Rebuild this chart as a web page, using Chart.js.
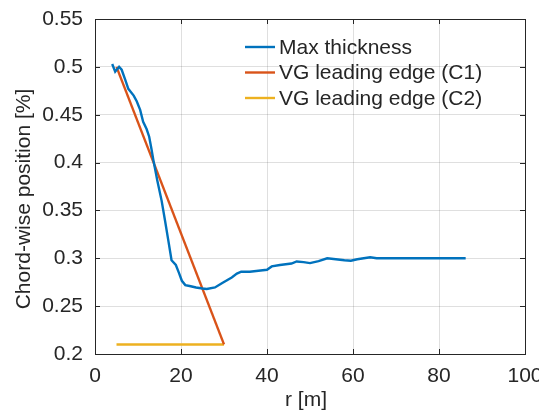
<!DOCTYPE html>
<html lang="en">
<head>
<meta charset="UTF-8">
<title>Chord-wise position of max thickness</title>
<script src="https://cdn.jsdelivr.net/npm/chart.js"></script>
<style>
  body { margin: 0; background: #fff; }
  canvas { display: block; }
</style>
</head>
<body>
<canvas id="chart" width="539" height="412"></canvas>
<script>
// Max thickness position along the blade
const radius = [4.0, 4.7, 5.6, 6.2, 7.0, 7.75, 9.0, 9.7, 10.5, 11.2, 12.0, 12.6, 13.1, 13.6, 14.5, 15.5, 16.3, 17.0, 17.8, 18.8,
                19.5, 20.2, 21.0, 22.0, 23.5, 25.0, 26.0, 27.9, 29.5, 31.8, 33.0, 34.0, 36.0, 38.0, 40.0, 41.1, 43.0, 45.7,
                46.9, 48.5, 50.0, 52.0, 54.0, 56.0, 58.0, 59.5, 61.0, 62.5, 64.0, 65.5, 67.0, 70.0, 75.0, 80.0, 86.2];
const maxThickness = [0.503, 0.495, 0.500, 0.497, 0.487, 0.477, 0.470, 0.464, 0.455, 0.4425, 0.435, 0.427, 0.415, 0.402, 0.381, 0.360,
                      0.339, 0.320, 0.298, 0.293, 0.285, 0.2765, 0.272, 0.271, 0.2695, 0.2685, 0.268, 0.2695, 0.274, 0.280, 0.284,
                      0.286, 0.286, 0.287, 0.288, 0.2915, 0.293, 0.2945, 0.2967, 0.296, 0.295, 0.297, 0.300, 0.299, 0.298, 0.2975,
                      0.299, 0.300, 0.301, 0.300, 0.300, 0.300, 0.300, 0.300, 0.300];

// vortex generator leading edge, two configurations
const c1Radius = [5, 30];
const c1Position = [0.5, 0.21];
const c2Radius = [5, 30];
const c2Position = [0.21, 0.21];

const seriesNames = ['Max thickness', 'VG leading edge (C1)', 'VG leading edge (C2)'];
const seriesColors = ['#0072BD', '#D95319', '#EDB120'];

const xTicks = [0, 20, 40, 60, 80, 100];
const xTickLabels = ['0', '20', '40', '60', '80', '100'];
const yTicks = [0.2, 0.25, 0.3, 0.35, 0.4, 0.45, 0.5, 0.55];
const yTickLabels = ['0.2', '0.25', '0.3', '0.35', '0.4', '0.45', '0.5', '0.55'];

const xTitle = 'r [m]';
const yTitle = 'Chord-wise position [%]';

const ink = '#262626';
const FONT = "'Liberation Sans', Arial, sans-serif";
const FONT_SIZE = 21;
const LINE_W = 2.4;

function pts(xs, ys) {
    return xs.map((x, i) => ({ x: x, y: ys[i] }));
}

Chart.defaults.font.family = FONT;
Chart.defaults.font.size = FONT_SIZE;
Chart.defaults.color = ink;

// box, inward ticks, legend and axis titles, matlab style
const matlabFrame = {
    id: 'matlabFrame',
    afterDraw(chart) {
        const ctx = chart.ctx;
        const a = chart.chartArea;
        const xs = chart.scales.x, ys = chart.scales.y;
        const tick = 5;
        ctx.save();
        ctx.strokeStyle = ink;
        ctx.lineWidth = 1;
        ctx.beginPath();
        xTicks.forEach(v => {
            const px = Math.round(xs.getPixelForValue(v)) + 0.5;
            ctx.moveTo(px, a.bottom); ctx.lineTo(px, a.bottom - tick);
            ctx.moveTo(px, a.top); ctx.lineTo(px, a.top + tick);
        });
        yTicks.forEach(v => {
            const py = Math.round(ys.getPixelForValue(v)) + 0.5;
            ctx.moveTo(a.left, py); ctx.lineTo(a.left + tick, py);
            ctx.moveTo(a.right, py); ctx.lineTo(a.right - tick, py);
        });
        ctx.stroke();
        ctx.strokeRect(Math.round(a.left) + 0.5, Math.round(a.top) + 0.5,
                       Math.round(a.right - a.left), Math.round(a.bottom - a.top));

        // legend
        ctx.font = FONT_SIZE + 'px ' + FONT;
        ctx.textBaseline = 'middle';
        ctx.textAlign = 'left';
        chart.data.datasets.forEach((ds, i) => {
            const y = 47 + i * 25.5;
            ctx.strokeStyle = ds.borderColor;
            ctx.lineWidth = LINE_W;
            ctx.beginPath();
            ctx.moveTo(245, y); ctx.lineTo(275, y);
            ctx.stroke();
            ctx.fillStyle = ink;
            ctx.fillText(ds.label, 279, y + 1);
        });

        // titles
        ctx.textAlign = 'center';
        ctx.fillText(xTitle, 306, 400);
        ctx.translate(24, 199);
        ctx.rotate(-Math.PI / 2);
        ctx.fillText(yTitle, 0, 0);
        ctx.restore();
    }
};

new Chart(document.getElementById('chart'), {
    type: 'scatter',
    data: {
        datasets: [
            { label: seriesNames[0], data: pts(radius, maxThickness), borderColor: seriesColors[0] },
            { label: seriesNames[1], data: pts(c1Radius, c1Position), borderColor: seriesColors[1] },
            { label: seriesNames[2], data: pts(c2Radius, c2Position), borderColor: seriesColors[2] }
        ]
    },
    options: {
        responsive: false,
        animation: false,
        showLine: true,
        elements: {
            point: { radius: 0, hoverRadius: 0 },
            line: { borderWidth: LINE_W, tension: 0, fill: false }
        },
        layout: { padding: { left: 0, top: 19, right: 14, bottom: 0 } },
        plugins: { legend: { display: false }, tooltip: { enabled: false } },
        scales: {
            x: {
                type: 'linear',
                min: 0, max: 100,
                afterBuildTicks: s => { s.ticks = xTicks.map(v => ({ value: v })); },
                afterFit: s => { s.height = 58; s.paddingLeft = 0; s.paddingRight = 0; },
                ticks: {
                    padding: 10,
                    maxRotation: 0,
                    callback: (v) => xTickLabels[xTicks.indexOf(v)]
                },
                grid: { color: 'rgba(38,38,38,0.15)', drawTicks: false },
                border: { display: false }
            },
            y: {
                type: 'linear',
                min: 0.2, max: 0.55,
                afterBuildTicks: s => { s.ticks = yTicks.map(v => ({ value: v })); },
                afterFit: s => { s.width = 95; s.paddingTop = 0; s.paddingBottom = 0; },
                ticks: {
                    padding: 12,
                    callback: (v) => {
                        const i = yTicks.findIndex(t => Math.abs(t - v) < 1e-9);
                        return yTickLabels[i];
                    }
                },
                grid: { color: 'rgba(38,38,38,0.15)', drawTicks: false },
                border: { display: false }
            }
        }
    },
    plugins: [matlabFrame]
});
</script>
</body>
</html>
